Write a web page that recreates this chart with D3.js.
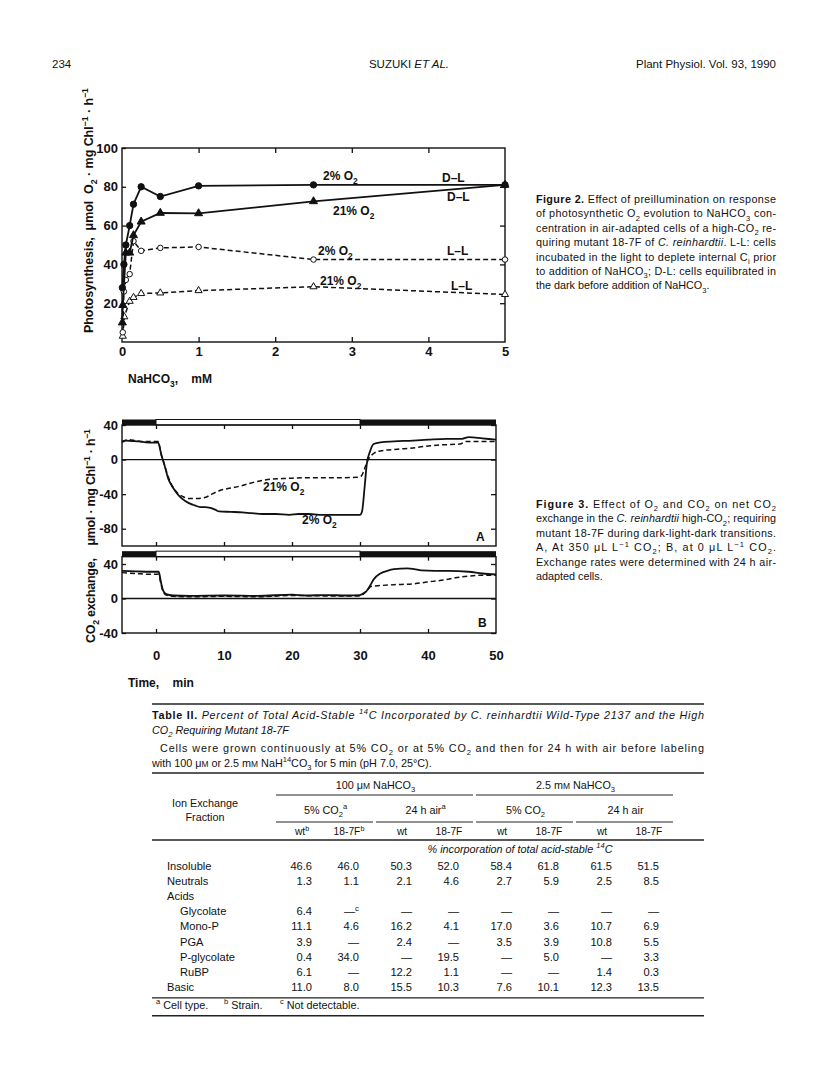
<!DOCTYPE html>
<html>
<head>
<meta charset="utf-8">
<script src="https://cdn.jsdelivr.net/npm/d3@7"></script>
<style>
body { margin: 0; background: #fff; }
svg text { font-family: "Liberation Sans", Arial, Helvetica, sans-serif; fill: #111; }
</style>
</head>
<body>
<script>
// ---------- Figure 2 : photosynthesis vs NaHCO3 (mM, umol O2) ----------
var dl2  = [[0.005,28],[0.025,40],[0.05,50],[0.1,60],[0.15,71],[0.25,80],[0.5,75],[1,80.5],[2.5,81],[5,81]];
var dl21 = [[0.005,10],[0.01,19],[0.05,46],[0.1,46],[0.15,55],[0.25,62],[0.5,66.5],[1,66.3],[2.5,72.5],[5,81]];
var ll2  = [[0.01,5],[0.025,26],[0.05,32],[0.1,35],[0.15,52],[0.25,47],[0.5,48.5],[1,49],[2.5,42.5],[5,42.5]];
var ll21 = [[0.01,3],[0.03,13],[0.1,21],[0.15,23],[0.25,25],[0.5,25.3],[1,26.5],[2.5,28.5],[5,24.5]];
var fig2XTicks = [0, 1, 2, 3, 4, 5];
var fig2YTicks = [20, 40, 60, 80, 100];

// ---------- Figure 3 : CO2 exchange vs time (min) ----------
var a2  = [[-5,20],[-4.5,22],[-3.5,21.5],[-2.5,21],[-1.5,20],[-0.5,19.5],[0.3,20],[0.8,5],[1.2,-5],[1.8,-22],[2.3,-30],[2.8,-36],[3.5,-43],[4.3,-48],[5,-51],[5.7,-53],[6.5,-55],[7.2,-55],[8,-56],[8.7,-58],[9.3,-60],[11,-60.5],[12.7,-61],[14,-62],[15.7,-63],[17.6,-63],[19.6,-64],[21,-63],[22.5,-63],[24,-64],[26,-64],[28,-64],[30,-64],[30.3,-60],[30.7,-30],[31,-5],[31.5,10],[32,18],[33,20],[35,21],[37.8,22],[40,23],[42.7,24],[45,24],[46,26],[48,24.5],[50,23]];
var a21 = [[-5,21],[-4,23],[-3,22],[-2,21],[-1,21],[0.3,21],[0.8,5],[1.2,-5],[1.8,-20],[2.5,-32],[3.2,-39],[4,-43],[4.8,-45],[6,-45],[7.2,-44],[8.2,-40],[9.3,-36],[11,-33],[12.7,-30],[14,-27],[15.7,-24],[17,-22.5],[18.6,-22],[20,-21.5],[22.5,-21],[25,-21],[27,-21],[29.5,-20.5],[30.2,-19],[30.6,-12],[31.2,0],[32,7],[33,10],[35.5,12],[37.8,13.5],[40.3,16],[42,17],[44.7,18],[45.6,21],[48,21],[50,21]];
var b2  = [[-5,32],[-3,31.5],[-1,31],[0.4,31],[0.7,20],[1,10],[1.5,5],[2.5,3.5],[5,3],[10,3.5],[15,3],[20,4.5],[22,3.5],[25,4],[28,3.5],[30,4],[30.5,6],[31,9],[31.5,15],[32,22],[33,29],[34,32],[35,34],[37,35],[38,34],[39,32.5],[41,32],[43,32],[46,31],[48,29],[50,28]];
var b21 = [[-5,30],[-3,29],[-1,28],[0.4,28],[0.7,18],[1,9],[1.5,4],[2.5,2.5],[5,2],[10,2.5],[15,2],[20,3.5],[25,3],[30,3],[30.5,5],[31,9],[31.6,14],[33,15],[35,16],[37.8,17],[39.8,19],[42.7,22],[44,24],[46,26],[48,27],[50,27]];
var darkPeriods = [[-5,0],[30,50]];
var lightPeriods = [[0,30]];
var fig3XTicks = [0, 10, 20, 30, 40, 50];
var panelATicks = [40, 0, -40, -80];
var panelBTicks = [40, 0, -40];

// ---------- Table II ----------
var tableRows = ["Insoluble", "Neutrals", "Acids", "Glycolate", "Mono-P", "PGA", "P-glycolate", "RuBP", "Basic"];
var subRows = ["Glycolate", "Mono-P", "PGA", "P-glycolate", "RuBP"];
var insoluble  = [46.6, 46.0, 50.3, 52.0, 58.4, 61.8, 61.5, 51.5];
var neutrals   = [1.3, 1.1, 2.1, 4.6, 2.7, 5.9, 2.5, 8.5];
var acids      = [];
var glycolate  = [6.4, null, null, null, null, null, null, null];
var monoP      = [11.1, 4.6, 16.2, 4.1, 17.0, 3.6, 10.7, 6.9];
var pga        = [3.9, null, 2.4, null, 3.5, 3.9, 10.8, 5.5];
var pGlycolate = [0.4, 34.0, null, 19.5, null, 5.0, null, 3.3];
var rubp       = [6.1, null, 12.2, 1.1, null, null, 1.4, 0.3];
var basic      = [11.0, 8.0, 15.5, 10.3, 7.6, 10.1, 12.3, 13.5];
var tableValues = [insoluble, neutrals, acids, glycolate, monoP, pga, pGlycolate, rubp, basic];
var concLabels = ["100 μ%{M} NaHCO_{3}", "2.5 m%{M} NaHCO_{3}"];
var growthLabels = ["5% CO_{2}^{a}", "24 h air^{a}", "5% CO_{2}", "24 h air"];
var strainLabels = ["wt^{b}", "18-7F^{b}", "wt", "18-7F", "wt", "18-7F", "wt", "18-7F"];
var footnotes = ["^{a} Cell type.", "^{b} Strain.", "^{c} Not detectable."];

var W = 816, H = 1073;
var svg = d3.select("body").append("svg").attr("width", W).attr("height", H);
svg.append("rect").attr("width", W).attr("height", H).attr("fill", "#fff");

// small markup: **bold**, *italic*, _{sub}, ^{sup}, %{small caps}
function rich(sel, str, size) {
  var parts = str.split(/(\*\*[^*]+\*\*|\*[^*]+\*|_\{[^}]*\}|\^\{[^}]*\}|%\{[^}]*\})/).filter(function(s) { return s.length; });
  var shift = 0;
  parts.forEach(function(p) {
    var t = sel.append("tspan"), txt = p, target = 0;
    if (p.indexOf("**") === 0) { txt = p.slice(2, -2); t.attr("font-weight", "bold").attr("font-style", "normal"); }
    else if (p.indexOf("*") === 0) { txt = p.slice(1, -1); t.attr("font-style", "italic"); }
    else if (p.indexOf("_{") === 0) { txt = p.slice(2, -1); target = size * 0.3; t.attr("font-size", size * 0.7); }
    else if (p.indexOf("^{") === 0) { txt = p.slice(2, -1); target = -size * 0.42; t.attr("font-size", size * 0.7); }
    else if (p.indexOf("%{") === 0) { txt = p.slice(2, -1); t.attr("font-size", size * 0.78); }
    t.attr("dy", target - shift);
    shift = target;
    t.text(txt);
  });
  return sel;
}
function label(g, x, y, str, size, opts) {
  opts = opts || {};
  var t = g.append("text").attr("x", x).attr("y", y).attr("font-size", size)
    .attr("text-anchor", opts.anchor || "start").style("white-space", "pre");
  if (opts.bold) t.attr("font-weight", "bold");
  if (opts.italic) t.attr("font-style", "italic");
  if (opts.width) t.attr("textLength", opts.width).attr("lengthAdjust", "spacing");
  if (opts.rotate) t.attr("transform", "rotate(-90," + x + "," + y + ")");
  return rich(t, str, size);
}

// ---------- page header ----------
var hdr = svg.append("g");
label(hdr, 52, 68, "234", 11.5);
label(hdr, 409, 68, "SUZUKI *ET AL.*", 11.5, {anchor: "middle"});
label(hdr, 776, 68, "Plant Physiol. Vol. 93, 1990", 11.5, {anchor: "end"});

// ---------- Figure 2 ----------
var x2 = d3.scaleLinear().domain([0, 5]).range([122, 505]);
var y2 = d3.scaleLinear().domain([0, 100]).range([342, 148]);
var f2 = svg.append("g");

function cleanAxis(g, size) {
  g.select(".domain").remove();
  g.selectAll("line").attr("stroke", "#111").attr("stroke-width", 1.3);
  g.selectAll("text").attr("font-size", size).attr("font-weight", "bold")
    .attr("font-family", "'Liberation Sans', Arial, sans-serif").attr("fill", "#111");
}
var intFmt = function(d) { return String(d); };
f2.append("g").attr("transform", "translate(0," + y2(0) + ")")
  .call(d3.axisBottom(x2).tickValues(fig2XTicks).tickSize(-5).tickPadding(5).tickFormat(intFmt))
  .call(function(g) { cleanAxis(g, 13); g.selectAll(".tick line").filter(function(d) { return d === 0 || d === 5; }).remove(); });
f2.append("g").attr("transform", "translate(0," + y2(100) + ")")
  .call(d3.axisTop(x2).tickValues([1, 2, 3, 4]).tickSize(-5).tickFormat(""))
  .call(function(g) { cleanAxis(g, 13); });
f2.append("g").attr("transform", "translate(" + x2(0) + ",0)")
  .call(d3.axisLeft(y2).tickValues(fig2YTicks).tickSize(-4).tickPadding(4).tickFormat(intFmt))
  .call(function(g) { cleanAxis(g, 13); });
f2.append("g").attr("transform", "translate(" + x2(5) + ",0)")
  .call(d3.axisRight(y2).tickValues([20, 40, 60, 80]).tickSize(-5).tickFormat(""))
  .call(function(g) { cleanAxis(g, 13); });
f2.append("rect").attr("x", x2(0)).attr("y", y2(100))
  .attr("width", x2(5) - x2(0)).attr("height", y2(0) - y2(100))
  .attr("fill", "none").attr("stroke", "#111").attr("stroke-width", 1.4);

var line2 = d3.line().x(function(d) { return x2(d[0]); }).y(function(d) { return y2(d[1]); });
function series2(data, dashed, shape, filled) {
  f2.append("path").datum(data).attr("d", line2).attr("fill", "none").attr("stroke", "#111")
    .attr("stroke-width", dashed ? 1.5 : 1.8).attr("stroke-dasharray", dashed ? "5,3" : null);
  var sym = d3.symbol().type(shape === "circle" ? d3.symbolCircle : d3.symbolTriangle)
    .size(shape === "circle" ? (filled ? 32 : 24) : (filled ? 28 : 22));
  f2.selectAll(null).data(data).enter().append("path")
    .attr("transform", function(d) { return "translate(" + x2(d[0]) + "," + y2(d[1]) + ")"; })
    .attr("d", sym).attr("fill", filled ? "#111" : "#fff").attr("stroke", "#111").attr("stroke-width", 1);
}
series2(ll21, true, "triangle", false);
series2(ll2, true, "circle", false);
series2(dl21, false, "triangle", true);
series2(dl2, false, "circle", true);

label(f2, 323, 180, "2% O_{2}", 12, {bold: true});
label(f2, 442, 182, "D\u2013L", 12, {bold: true});
label(f2, 447, 201, "D\u2013L", 12, {bold: true});
label(f2, 333, 215, "21% O_{2}", 12, {bold: true});
label(f2, 318, 255, "2% O_{2}", 12, {bold: true});
label(f2, 447, 255, "L\u2013L", 12, {bold: true});
label(f2, 320, 285, "21% O_{2}", 12, {bold: true});
label(f2, 451, 290, "L\u2013L", 12, {bold: true});
label(f2, 93, 333, "Photosynthesis,  μmol  O_{2} · mg Chl^{−1} · h^{−1}", 12.5, {bold: true, rotate: true, width: 245});
label(f2, 128, 383, "NaHCO_{3},    mM", 12, {bold: true});

// ---------- Figure 3 ----------
var x3 = d3.scaleLinear().domain([-5, 50]).range([122, 496]);
var yA = d3.scaleLinear().domain([-100, 40]).range([546, 425]);
var yB = d3.scaleLinear().domain([-40, 40]).range([633, 564]);
var f3 = svg.append("g");

function panel(y, top, ticks, curves, bottomLabels) {
  var yTop = y(top), yBot = y.range()[0];
  var g = f3.append("g");
  // light/dark bar
  var barH = 5.5;
  darkPeriods.forEach(function(p) {
    g.append("rect").attr("x", x3(p[0])).attr("y", yTop - barH).attr("width", x3(p[1]) - x3(p[0])).attr("height", barH).attr("fill", "#111");
  });
  lightPeriods.forEach(function(p) {
    g.append("rect").attr("x", x3(p[0])).attr("y", yTop - barH).attr("width", x3(p[1]) - x3(p[0])).attr("height", barH)
      .attr("fill", "#fff").attr("stroke", "#111").attr("stroke-width", 1);
  });
  g.append("g").attr("transform", "translate(0," + yTop + ")")
    .call(d3.axisTop(x3).tickValues([0, 10, 20, 30, 40]).tickSize(-4).tickFormat(""))
    .call(function(a) { cleanAxis(a, 13); });
  g.append("g").attr("transform", "translate(0," + yBot + ")")
    .call(d3.axisBottom(x3).tickValues(bottomLabels ? fig3XTicks : [0, 10, 20, 30, 40]).tickSize(-4).tickPadding(18)
      .tickFormat(bottomLabels ? intFmt : ""))
    .call(function(a) { cleanAxis(a, 13); a.selectAll(".tick line").filter(function(d) { return d === 50; }).remove(); });
  g.append("g").attr("transform", "translate(" + x3(-5) + ",0)")
    .call(d3.axisLeft(y).tickValues(ticks).tickSize(-4).tickPadding(4).tickFormat(intFmt))
    .call(function(a) { cleanAxis(a, 13); });
  g.append("g").attr("transform", "translate(" + x3(50) + ",0)")
    .call(d3.axisRight(y).tickValues(ticks).tickSize(-5).tickFormat(""))
    .call(function(a) { cleanAxis(a, 13); });
  g.append("rect").attr("x", x3(-5)).attr("y", yTop).attr("width", x3(50) - x3(-5)).attr("height", yBot - yTop)
    .attr("fill", "none").attr("stroke", "#111").attr("stroke-width", 1.4);
  g.append("line").attr("x1", x3(-5)).attr("x2", x3(50)).attr("y1", y(0)).attr("y2", y(0))
    .attr("stroke", "#111").attr("stroke-width", 1.3);
  var ln = d3.line().curve(d3.curveMonotoneX).x(function(d) { return x3(d[0]); }).y(function(d) { return y(d[1]); });
  curves.forEach(function(c) {
    g.append("path").datum(c.data).attr("d", ln).attr("fill", "none").attr("stroke", "#111")
      .attr("stroke-width", c.dashed ? 1.5 : 1.8).attr("stroke-dasharray", c.dashed ? "5,3" : null);
  });
  return g;
}
panel(yA, 40, panelATicks, [{data: a2, dashed: false}, {data: a21, dashed: true}], false);
panel(yB, 48.5, panelBTicks, [{data: b2, dashed: false}, {data: b21, dashed: true}], true);
label(f3, 263, 491, "21% O_{2}", 12, {bold: true});
label(f3, 302, 524, "2% O_{2}", 12, {bold: true});
label(f3, 476, 541, "A", 12, {bold: true});
label(f3, 478, 627, "B", 12, {bold: true});
label(f3, 95, 643, "CO_{2} exchange,    μmol · mg Chl^{−1} · h^{−1}", 12.5, {bold: true, rotate: true, width: 214});
label(f3, 128, 687, "Time,    min", 12, {bold: true});

// ---------- captions ----------
function caption(x, y0, lh, width, lines) {
  var g = svg.append("g");
  lines.forEach(function(s, i) {
    label(g, x, y0 + i * lh, s, 10.8, {width: i < lines.length - 1 ? width : null});
  });
}
caption(536, 203, 14.4, 240, [
  "**Figure 2.** Effect of preillumination on response",
  "of photosynthetic O_{2} evolution to NaHCO_{3} con-",
  "centration in air-adapted cells of a high-CO_{2} re-",
  "quiring mutant 18-7F of *C. reinhardtii*. L-L: cells",
  "incubated in the light to deplete internal C_{i} prior",
  "to addition of NaHCO_{3}; D-L: cells equilibrated in",
  "the dark before addition of NaHCO_{3}."
]);
caption(536, 508, 14.4, 240, [
  "**Figure 3.** Effect of O_{2} and CO_{2} on net CO_{2}",
  "exchange in the *C. reinhardtii* high-CO_{2}; requiring",
  "mutant 18-7F during dark-light-dark transitions.",
  "A, At 350 μL L^{−1} CO_{2}; B, at 0 μL L^{−1} CO_{2}.",
  "Exchange rates were determined with 24 h air-",
  "adapted cells."
]);

// ---------- Table II ----------
var tL = 152, tR = 704, tW = tR - tL;
var tb = svg.append("g");
var fs = 10.8;
function rule(y, x1, x2, w) {
  tb.append("line").attr("x1", x1).attr("x2", x2).attr("y1", y).attr("y2", y)
    .attr("stroke", "#222").attr("stroke-width", w || 1);
}
// column groups (5% CO2 / 24 h air at two NaHCO3 levels), two strains each
var grp = d3.scalePoint().domain(d3.range(4)).range([325.5, 625.5]);
var strainPos = d3.scalePoint().domain([0, 1]).range([-23.5, 23.5]);
function colX(j) { return grp(Math.floor(j / 2)) + strainPos(j % 2); }

rule(704, tL, tR, 1.6);
label(tb, tL, 719, "**Table II.** Percent of Total Acid-Stable ^{14}C Incorporated by C. reinhardtii Wild-Type 2137 and the High", fs, {italic: true, width: tW});
label(tb, tL, 734, "CO_{2} Requiring Mutant 18-7F", fs, {italic: true});
label(tb, tL + 8, 752, "Cells were grown continuously at 5% CO_{2} or at 5% CO_{2} and then for 24 h with air before labeling", fs, {width: tW - 8});
label(tb, tL, 767, "with 100 μ%{M} or 2.5 m%{M} NaH^{14}CO_{3} for 5 min (pH 7.0, 25°C).", fs);
rule(773, tL, tR, 1.3);

concLabels.forEach(function(s, i) {
  var a = colX(i * 4) - 26, b = colX(i * 4 + 3) + 24;
  label(tb, (grp(i * 2) + grp(i * 2 + 1)) / 2, 789, s, fs, {anchor: "middle"});
  rule(795, a, b, 1);
});
label(tb, 205, 807, "Ion Exchange", fs, {anchor: "middle"});
label(tb, 205, 821, "Fraction", fs, {anchor: "middle"});
growthLabels.forEach(function(s, i) {
  label(tb, grp(i), 814, s, fs, {anchor: "middle"});
  rule(822, colX(i * 2) - 26, colX(i * 2 + 1) + 24, 1);
});
strainLabels.forEach(function(s, i) {
  label(tb, colX(i), 835, s, fs * 0.95, {anchor: "middle"});
});
rule(840, tL, tR, 1.3);
label(tb, 520, 853, "% incorporation of total acid-stable ^{14}C", fs, {anchor: "middle", italic: true});

var rowY = d3.scalePoint().domain(tableRows).range([870, 870 + 8 * 15.1]);
var fmt = d3.format(".1f");
tableRows.forEach(function(r, i) {
  var indent = subRows.indexOf(r) >= 0 ? 28 : 15;
  label(tb, tL + indent, rowY(r), r, fs * 1.03);
  tableValues[i].forEach(function(v, j) {
    var s = v === null ? "\u2014" : fmt(v);
    if (r === "Glycolate" && j === 1) s = "\u2014^{c}";
    label(tb, colX(j) + 10, rowY(r), s, fs * 1.03, {anchor: "end"});
  });
});
rule(rowY("Basic") + 7, tL, tR, 1.3);
var footX = d3.scaleOrdinal().domain(d3.range(3)).range([tL + 4, tL + 72, tL + 128]);
footnotes.forEach(function(s, i) {
  label(tb, footX(i), rowY("Basic") + 18, s, fs);
});
rule(rowY("Basic") + 25, tL, tR, 1.6);
</script>
</body>
</html>
